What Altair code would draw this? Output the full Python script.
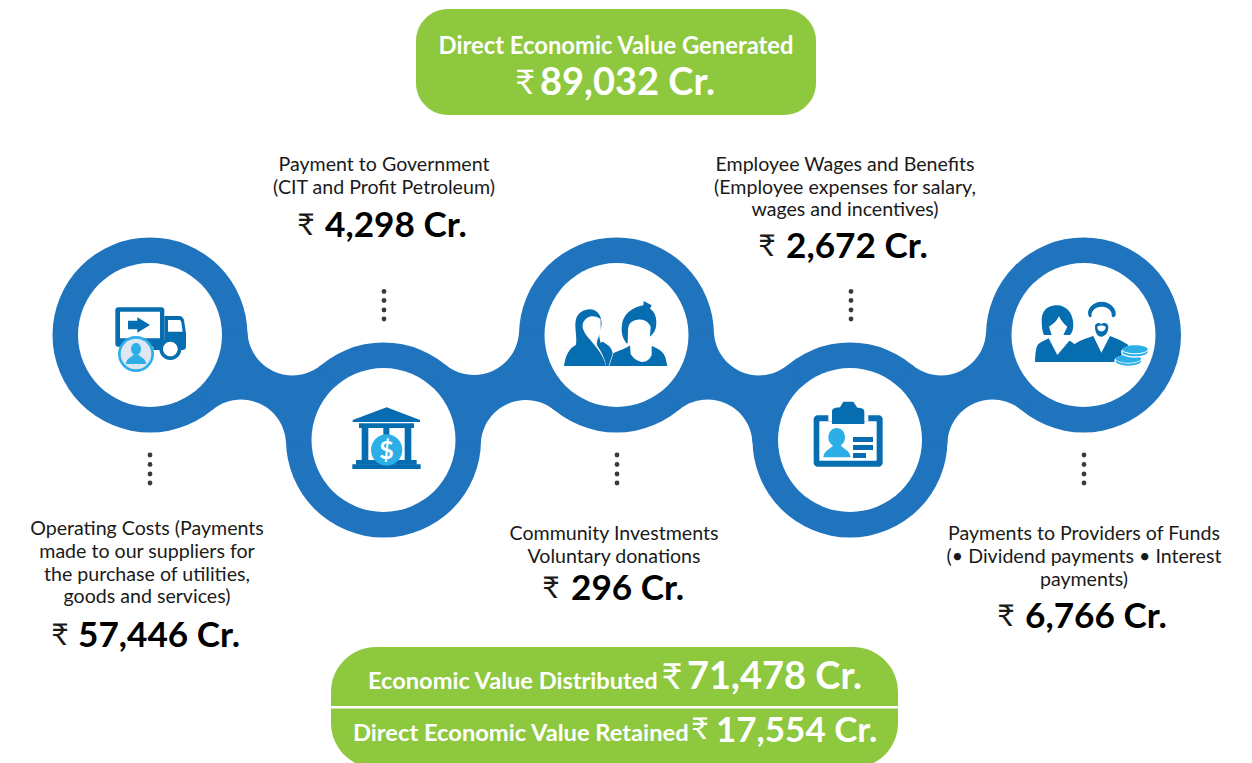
import math
import altair as alt
import pandas as pd

# ---------- content ----------
categories = [
    ["Operating Costs (Payments", "made to our suppliers for", "the purchase of utilities,", "goods and services)"],
    ["Payment to Government", "(CIT and Profit Petroleum)"],
    ["Community Investments", "Voluntary donations"],
    ["Employee Wages and Benefits", "(Employee expenses for salary,", "wages and incentives)"],
    ["Payments to Providers of Funds", "(\u2022 Dividend payments \u2022 Interest", "payments)"],
]
amounts = [57446, 4298, 296, 2672, 6766]
generated = 89032
distributed = 71478
retained = 17554
generated_label = "Direct Economic Value Generated"
distributed_label = "Economic Value Distributed"
retained_label = "Direct Economic Value Retained"
RUPEE = "\u20b9"

# ---------- layout (reference pixels) ----------
W, H = 1236, 755
centers_x = [150, 383.5, 616.5, 850, 1083.5]
centers_y = [335, 440, 335, 440, 335]
R_OUT, R_IN, R_FIL = 97.5, 72, 45
dots_x = [150, 384, 617, 851, 1084]
dots_y = [[455, 464.5, 474, 483], [291.5, 300.5, 310, 319]]
label_cx = [147, 384, 614, 845, 1084]
label_y = [[529, 552, 575, 597], [165, 188], [534, 557], [165, 188, 210], [534, 557, 580]]
rupee_x = [60, 306, 551, 767, 1006]
value_x = [78, 325, 571, 786, 1025]
value_y = [636, 226, 589, 247, 617]

BLUE, DARK, LIGHT, PALE, GREEN = "#1f74bd", "#066db0", "#2caee6", "#dde6f1", "#8dc83f"
FONT = "Lato"
X = alt.X("x:Q", axis=None, scale=alt.Scale(domain=[8, 8 + W], nice=False, zero=False))
Y = alt.Y("y:Q", axis=None, scale=alt.Scale(domain=[8 + H, 8], nice=False, zero=False))


# ---------- path helpers ----------
def ell(cx, cy, rx, ry=None):
    ry = rx if ry is None else ry
    k = 0.5523
    return (f"M{cx-rx} {cy} C{cx-rx} {cy-k*ry} {cx-k*rx} {cy-ry} {cx} {cy-ry} "
            f"C{cx+k*rx} {cy-ry} {cx+rx} {cy-k*ry} {cx+rx} {cy} "
            f"C{cx+rx} {cy+k*ry} {cx+k*rx} {cy+ry} {cx} {cy+ry} "
            f"C{cx-k*rx} {cy+ry} {cx-rx} {cy+k*ry} {cx-rx} {cy} Z")


def box(x0, y0, x1, y1, r=0):
    if r == 0:
        return f"M{x0} {y0} L{x1} {y0} L{x1} {y1} L{x0} {y1} Z"
    k = r * 0.45
    return (f"M{x0+r} {y0} L{x1-r} {y0} C{x1-k} {y0} {x1} {y0+k} {x1} {y0+r} "
            f"L{x1} {y1-r} C{x1} {y1-k} {x1-k} {y1} {x1-r} {y1} "
            f"L{x0+r} {y1} C{x0+k} {y1} {x0} {y1-k} {x0} {y1-r} "
            f"L{x0} {y0+r} C{x0} {y0+k} {x0+k} {y0} {x0+r} {y0} Z")


def connector(i):
    """Neck between ring i and i+1, two concave fillets tangent to both rings."""
    ax, ay, bx, by = centers_x[i], centers_y[i], centers_x[i + 1], centers_y[i + 1]
    dx, dy = bx - ax, by - ay
    d = math.hypot(dx, dy)
    mx, my = (ax + bx) / 2, (ay + by) / 2
    h = math.sqrt((R_OUT + R_FIL) ** 2 - (d / 2) ** 2)
    nx, ny = -dy / d, dx / d
    f1 = (mx + nx * h, my + ny * h)
    f2 = (mx - nx * h, my - ny * h)
    t = R_OUT / (R_OUT + R_FIL)
    pt = lambda c, f: (c[0] + (f[0] - c[0]) * t, c[1] + (f[1] - c[1]) * t)
    a, b = (ax, ay), (bx, by)
    p1, p2, p3, p4 = pt(a, f1), pt(b, f1), pt(b, f2), pt(a, f2)
    s1 = 1
    return (f"M{p1[0]-ax} {p1[1]-ay} A{R_FIL} {R_FIL} 0 0 {s1} {p2[0]-ax} {p2[1]-ay} "
            f"L{bx-ax} {by-ay} L{p3[0]-ax} {p3[1]-ay} "
            f"A{R_FIL} {R_FIL} 0 0 {s1} {p4[0]-ax} {p4[1]-ay} L0 0 Z")


# Icons: paths in 3x units measured from a crop origin (scale 1/3).
crop1, crop2, crop3 = (40, 230), (500, 230), (940, 230)
icons = [
    # truck
    (crop1, DARK, box(226, 232, 373, 350, 8)),
    (crop1, "white", box(240, 245, 360, 325)),
    (crop1, DARK, "M264 272 L292 272 L292 262 L330 285 L292 308 L292 298 L264 298 Z"),
    (crop1, DARK, "M373 258 L418 258 C426 258 430 264 432 270 L438 310 L438 350 C438 356 434 360 428 360 L340 360 L340 340 L373 340 Z"),
    (crop1, "white", "M384 270 L418 270 C422 270 423 274 424 278 L428 305 L384 305 Z"),
    (crop1, DARK, ell(391, 357, 33)),
    (crop1, "white", ell(391, 357, 22)),
    (crop1, LIGHT, ell(288, 372, 54)),
    (crop1, PALE, ell(288, 372, 46)),
    (crop1, LIGHT, ell(288, 357, 15, 18)),
    (crop1, LIGHT, "M258 402 C258 385 275 382 280 374 L296 374 C301 382 318 385 318 402 Z"),
    # bank
    (crop1, DARK, "M938 570 L1040 532 L1140 570 L1140 576 L938 576 Z"),
    (crop1, DARK, box(957, 580, 1122, 594)),
    (crop1, DARK, box(965, 594, 985, 692)),
    (crop1, DARK, box(1030, 594, 1048, 692)),
    (crop1, DARK, box(1094, 594, 1114, 692)),
    (crop1, DARK, box(948, 690, 1130, 704)),
    (crop1, DARK, box(937, 703, 1142, 717)),
    (crop1, LIGHT, ell(1040, 660, 47)),
    # two people
    (crop2, DARK, "M192 408 C196 378 206 356 228 344 C232 320 222 290 228 268 C236 236 282 226 298 254 C308 272 306 290 298 306 L298 322 L318 408 Z"),
    (crop2, "white", "M302 268 C285 252 256 256 248 282 C244 310 275 330 295 360 C308 378 314 392 318 408 L328 408 C322 385 310 362 290 342 L292 330 L302 306 Z"),
    (crop2, DARK, "M290 345 L308 335 C325 345 335 352 338 370 L326 408 L318 408 C316 390 305 365 290 345 Z"),
    (crop2, DARK, "M328 408 L340 370 C355 362 375 358 390 346 L392 372 C405 395 440 410 455 375 L455 348 C470 355 490 360 497 385 L502 408 Z"),
    (crop2, DARK, "M382 342 C370 330 362 310 366 285 C368 255 395 232 430 226 L431 213 L455 226 L450 236 C465 245 472 265 468 290 C465 305 458 312 450 320 L452 290 C445 275 430 265 410 270 C395 272 385 280 384 300 C383 315 385 330 382 342 Z"),
    # id card
    (crop2, DARK, box(941, 556, 1148, 710, 12)),
    (crop2, "white", box(958, 574, 1130, 692)),
    (crop2, "white", box(985, 550, 1105, 574)),
    (crop2, DARK, "M996 582 L996 545 C996 535 1005 533 1020 532 L1030 515 L1060 515 L1072 533 C1085 533 1093 537 1093 545 L1093 582 Z"),
    (crop2, LIGHT, ell(1010, 622, 25, 28)),
    (crop2, LIGHT, "M970 682 C972 660 995 655 1000 645 L1022 645 C1026 655 1050 660 1052 682 Z"),
    (crop2, DARK, box(1059, 621, 1119, 636)),
    (crop2, DARK, box(1059, 645, 1119, 660)),
    (crop2, DARK, box(1059, 669, 1098, 684)),
    # couple with coins
    (crop3, DARK, "M305 270 C305 240 325 226 350 226 C380 226 400 250 400 285 C400 300 395 310 390 315 L370 315 L382 290 C370 280 362 270 357 258 C350 275 335 285 327 290 L335 315 L312 315 C307 305 305 290 305 270 Z"),
    (crop3, DARK, "M285 396 C286 370 288 350 295 342 C305 335 318 330 326 325 L352 375 L388 332 C395 335 402 340 405 345 L405 396 Z"),
    (crop3, DARK, "M400 345 C420 330 440 325 460 318 L484 368 L510 318 C530 325 550 335 565 345 L530 396 L405 396 Z"),
    (crop3, DARK, "M445 255 C440 235 460 215 485 215 C510 215 530 235 527 255 C525 262 518 264 515 258 C518 245 505 230 485 230 C465 230 452 245 455 258 C452 265 447 262 445 255 Z"),
    (crop3, DARK, "M465 290 C465 280 475 276 484 282 C493 276 505 280 505 292 C505 308 495 320 484 320 C473 320 465 308 465 290 Z"),
    (crop3, "white", "M472 290 C478 285 490 285 497 290 C497 300 490 304 484 304 C478 304 472 300 472 290 Z"),
    (crop3, "white", ell(565, 392, 42, 17)),
    (crop3, LIGHT, ell(565, 394, 38, 13)),
    (crop3, "white", ell(565, 388, 38, 13)),
    (crop3, LIGHT, ell(565, 386, 38, 12)),
    (crop3, "white", ell(585, 366, 42, 17)),
    (crop3, LIGHT, ell(585, 366, 38, 13)),
    (crop3, "white", ell(585, 360, 38, 13)),
    (crop3, LIGHT, ell(585, 358, 38, 12)),
]


# ---------- layers ----------
def rects(rows, radius):
    df = pd.DataFrame(rows, columns=["x", "x2", "y", "y2", "c"])
    return alt.Chart(df).mark_rect(cornerRadius=radius, clip=True).encode(
        x=X, x2="x2:Q", y=Y, y2="y2:Q", color=alt.Color("c:N", scale=None))


def circles(xs, ys, radius, color):
    df = pd.DataFrame({"x": xs, "y": ys})
    return alt.Chart(df).mark_circle(size=4 * radius * radius, color=color, opacity=1).encode(x=X, y=Y)


def paths(rows, size):
    df = pd.DataFrame(rows, columns=["x", "y", "c", "p"])
    df["o"] = range(len(df))
    return alt.Chart(df).mark_point(filled=True, opacity=1, strokeWidth=0, size=size).encode(
        x=X, y=Y,
        shape=alt.Shape("p:N", scale=None),
        color=alt.Color("c:N", scale=None),
        order="o:Q")


def texts(rows, weight="normal", align="center"):
    df = pd.DataFrame(rows, columns=["x", "y", "t", "s", "c"])
    return alt.Chart(df).mark_text(font=FONT, fontWeight=weight, align=align, baseline="middle").encode(
        x=X, y=Y, text="t:N",
        size=alt.Size("s:Q", scale=None),
        color=alt.Color("c:N", scale=None))


layers = []
# ribbon
layers.append(circles(centers_x, centers_y, R_OUT, BLUE))
layers.append(paths([(centers_x[i], centers_y[i], BLUE, connector(i)) for i in range(4)], 4))
layers.append(circles(centers_x, centers_y, R_IN, "white"))
# icons
layers.append(paths([(o[0], o[1], c, p) for o, c, p in icons], 4 / 9))
layers.append(texts([(386.5, 450.5, "$", 25, "white")], "bold"))
# dotted leaders
dx, dy = [], []
for i, x in enumerate(dots_x):
    for y in dots_y[i % 2]:
        dx.append(x)
        dy.append(y)
layers.append(circles(dx, dy, 2.4, "#3a3a3a"))
# pills
layers.append(rects([(416, 816, 9, 115, GREEN)], 32))
layers.append(rects([(331, 898, 647, 768, GREEN)], 45))
layers.append(rects([(331, 898, 706, 708.5, "white")], 0))
# labels
rows = []
for i, lines in enumerate(categories):
    for line, y in zip(lines, label_y[i]):
        rows.append((label_cx[i], y, line, 19.6, "#1a1a1a"))
layers.append(texts(rows))
layers.append(texts([(rupee_x[i], value_y[i], RUPEE, 30, "#1a1a1a") for i in range(5)], "normal"))
layers.append(texts([(value_x[i], value_y[i], f"{amounts[i]:,} Cr.", 35.2, "black") for i in range(5)], "bold", "left"))
# pill text
layers.append(texts([(616, 47, generated_label, 23.8, "white")], "bold"))
layers.append(texts([(525, 84, RUPEE, 34, "white"), (672, 678, RUPEE, 36, "white"), (700, 730, RUPEE, 30, "white")]))
layers.append(texts([(540, 84, f"{generated:,} Cr.", 38, "white"),
                     (687, 678, f"{distributed:,} Cr.", 38, "white"),
                     (716, 731, f"{retained:,} Cr.", 35, "white")], "bold", "left"))
layers.append(texts([(368, 682, distributed_label, 23.6, "white"),
                     (353, 734, retained_label, 23.7, "white")], "bold", "left"))

chart = alt.layer(*layers).properties(
    width=W, height=H, padding=0, autosize=alt.AutoSizeParams(type="none"), background="white"
).configure_view(stroke=None)

chart.save("out.html", embed_options={"renderer": "svg", "actions": False})
